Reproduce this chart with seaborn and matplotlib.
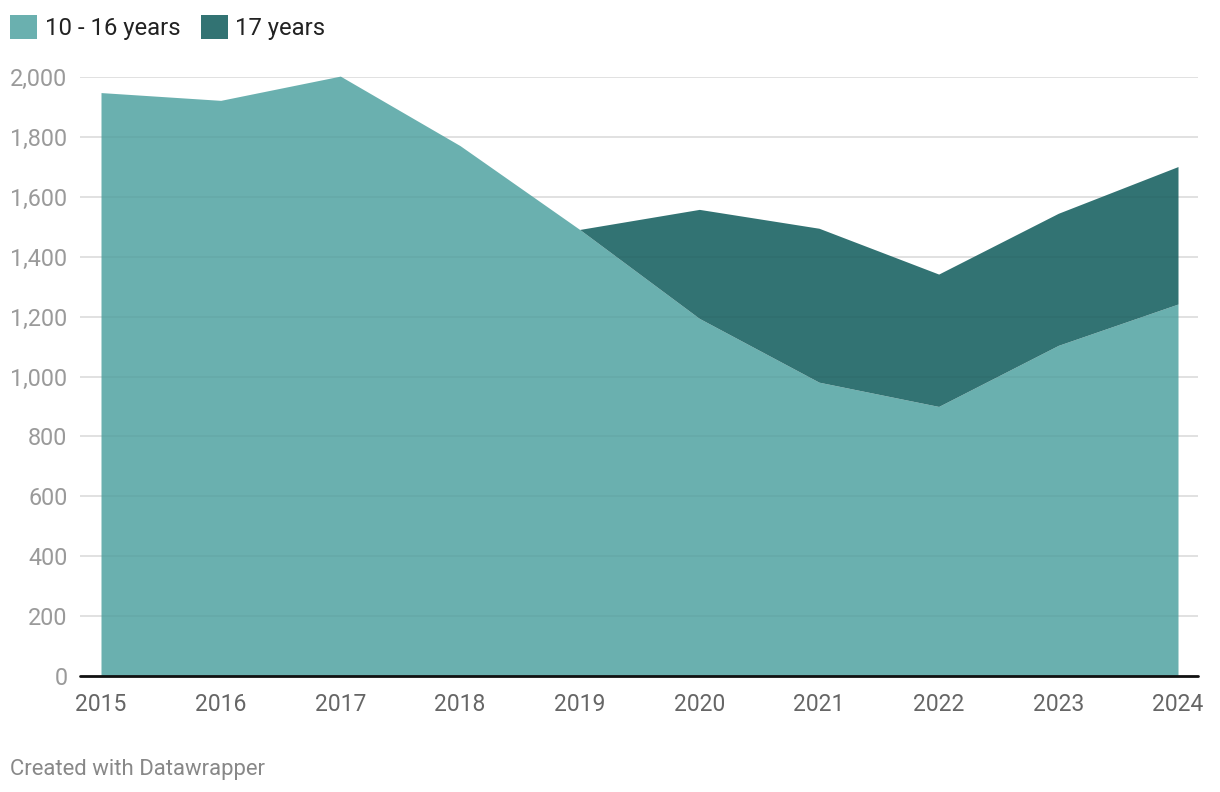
import matplotlib
matplotlib.use("Agg")
import matplotlib.pyplot as plt
import seaborn as sns
import numpy as np

# Data (stacked areas)
years = [2015, 2016, 2017, 2018, 2019, 2020, 2021, 2022, 2023, 2024]
age_10_16 = [1948, 1922, 2003, 1771, 1491, 1194, 981, 900, 1104, 1242]
age_17 = [0, 0, 0, 0, 0, 364, 514, 442, 441, 459]
labels = ["10 - 16 years", "17 years"]
colors = ["#6ab0af", "#327373"]
yticks = [0, 200, 400, 600, 800, 1000, 1200, 1400, 1600, 1800, 2000]

sns.set_theme(style="white")
plt.rcParams["font.family"] = ["Roboto", "DejaVu Sans"]

fig = plt.figure(figsize=(12.2, 7.92), dpi=100)
ax = fig.add_axes([80 / 1220, 1 - 676 / 792, 1118 / 1220, 599 / 792])

polys = ax.stackplot(years, age_10_16, age_17, colors=colors, labels=labels,
                     linewidth=0, zorder=2)
for p in polys:
    p.set_clip_on(False)

ax.set_xlim(2015 - 21 / 119.67, 2024 + 20 / 119.67)
ax.set_ylim(0, 2000)

# grid drawn faintly over the fills
for v in yticks[1:]:
    ax.axhline(v, color="#e3e3e3", lw=1.1, zorder=1)
    ax.axhline(v, color=(0, 0, 0, 0.04), lw=1.1, zorder=3)
base = ax.axhline(0, color="#111111", lw=2, zorder=4)
base.set_clip_on(False)

ax.set_xticks(years)
ax.set_xticklabels([str(y) for y in years])
ax.set_yticks(yticks)
ax.set_yticklabels([f"{v:,}" for v in yticks])
ax.tick_params(axis="x", length=0, pad=12, labelsize=16.5, labelcolor="#666666")
ax.tick_params(axis="y", length=0, pad=9, labelsize=16.8, labelcolor="#9a9a9a")
sns.despine(ax=ax, left=True, bottom=True)

fig.legend(loc="upper left", bbox_to_anchor=(10 / 1220, 1 - 15 / 792), ncol=2,
           frameon=False, fontsize=17.2, handlelength=1.15, handleheight=1.15,
           handletextpad=0.3, columnspacing=0.85, borderaxespad=0, borderpad=0,
           labelcolor="#222222")

fig.text(10 / 1220, 1 - 770 / 792, "Created with Datawrapper", fontsize=15.9,
         color="#888888", va="center", ha="left")

fig.savefig("out.png", dpi=100)
